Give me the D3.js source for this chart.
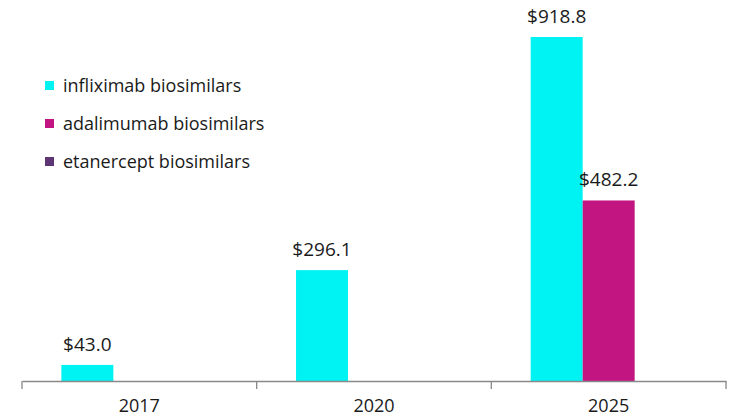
<!DOCTYPE html>
<html><head><meta charset="utf-8">
<script src="https://cdn.jsdelivr.net/npm/d3@7"></script>
<style>html,body{margin:0;padding:0;background:#fff;}svg{display:block;}</style>
</head><body>
<svg id="chart" width="749" height="418"></svg>
<script>
const years = ["2017", "2020", "2025"];
const seriesNames = ["infliximab biosimilars", "adalimumab biosimilars", "etanercept biosimilars"];
const infliximab = [43.0, 296.1, 918.8];
const adalimumab = [null, null, 482.2];
const etanercept = [null, null, null];
const colors = ["#00F3F3", "#C31581", "#5D3575"];

const seriesValues = [infliximab, adalimumab, etanercept];
const svg = d3.select("#chart");
const font = "'Open Sans', 'Noto Sans', sans-serif";

const x0 = d3.scaleBand().domain(years).range([22, 726]).paddingInner(0).paddingOuter(0);
const x1 = d3.scaleBand().domain(seriesNames).range([0, x0.bandwidth()]).paddingOuter(0.757).paddingInner(0);
const y = d3.scaleLinear().domain([0, 918.8]).range([381, 37]);

// bars
seriesNames.forEach((name, si) => {
  const vals = seriesValues[si];
  const data = years.map((yr, i) => ({yr, v: vals[i]})).filter(d => d.v != null);
  const g = svg.append("g");
  g.selectAll("rect").data(data).enter().append("rect")
    .attr("x", d => x0(d.yr) + x1(name))
    .attr("width", x1.bandwidth())
    .attr("y", d => y(d.v))
    .attr("height", d => y(0) - y(d.v))
    .attr("fill", colors[si]);
  g.selectAll("text").data(data).enter().append("text")
    .attr("x", d => x0(d.yr) + x1(name) + x1.bandwidth() / 2)
    .attr("y", d => y(d.v) - 14)
    .attr("text-anchor", "middle")
    .attr("font-family", font)
    .attr("font-size", 19)
    .attr("fill", "#1a1a1a")
    .text(d => "$" + d3.format(".1f")(d.v));
});

// x axis
const axis = d3.axisBottom(x0).tickSize(0).tickFormat("");
const ag = svg.append("g").attr("transform", `translate(0,${y(0)})`).call(axis);
ag.select(".domain").attr("stroke", "#898989").attr("stroke-width", 1.3);
const boundaries = years.map(d => x0(d)).concat([x0.range()[1]]);
ag.selectAll(".bound").data(boundaries).enter().append("line")
  .attr("x1", d => d).attr("x2", d => d).attr("y1", 0).attr("y2", 8)
  .attr("stroke", "#898989").attr("stroke-width", 1.3);
ag.selectAll(".lbl").data(years).enter().append("text")
  .attr("x", d => x0(d) + x0.bandwidth() / 2)
  .attr("y", 31)
  .attr("text-anchor", "middle")
  .attr("font-family", font)
  .attr("font-size", 18)
  .attr("fill", "#1a1a1a")
  .text(d => d);

// legend
const lg = svg.append("g");
seriesNames.forEach((name, i) => {
  const cy = 85.5 + i * 38;
  lg.append("rect").attr("x", 45).attr("y", cy - 4.5).attr("width", 9).attr("height", 9).attr("fill", colors[i]);
  lg.append("text").attr("x", 63).attr("y", cy + 6.5)
    .attr("font-family", font).attr("font-size", 18).attr("fill", "#1a1a1a")
    .text(name);
});
</script>
</body></html>
